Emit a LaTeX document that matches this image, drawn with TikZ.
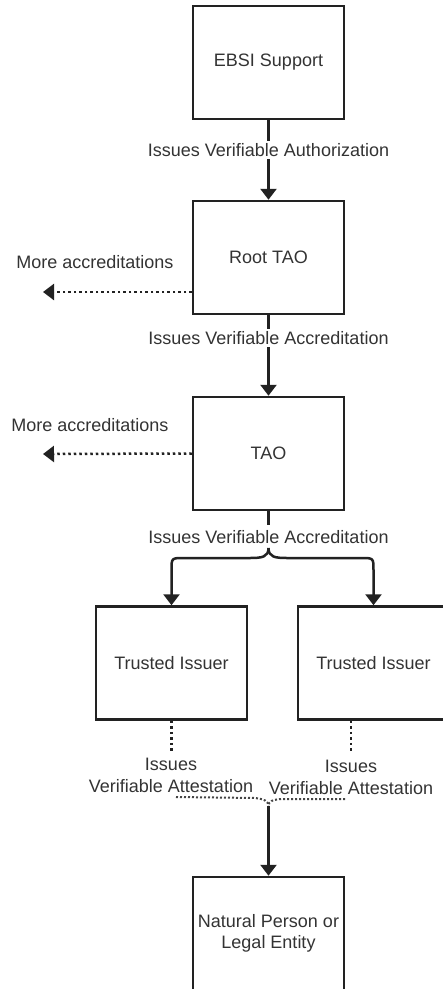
\documentclass[tikz,border=0pt]{standalone}
\usepackage{fontspec}
\setmainfont{Liberation Sans}
\usetikzlibrary{arrows.meta}
\definecolor{ink}{HTML}{222222}
\definecolor{txt}{HTML}{333333}
\definecolor{dotc}{HTML}{444444}
\begin{document}
\begin{tikzpicture}[x=1pt,y=-1pt,
  box/.style={draw=ink, line width=2.5pt, minimum width=151pt, minimum height=113pt,
    inner sep=0pt, font=\fontsize{18}{21}\selectfont, text=txt, align=center},
  lbl/.style={font=\fontsize{18}{22}\selectfont, text=txt, inner sep=2pt, fill=white, align=center},
  plain/.style={font=\fontsize{18}{22}\selectfont, text=txt, inner sep=0pt, align=center},
  tip/.style={-{Triangle[width=16pt,length=11pt]}},
  arr/.style={draw=ink, line width=2.5pt, tip},
  dotarr/.style={draw=ink, line width=2.5pt, dash pattern=on 2.5pt off 3pt, tip},
  dotline/.style={draw=ink, line width=2.5pt, dash pattern=on 2.5pt off 3pt},
  dotthin/.style={draw=dotc, line width=2pt, dash pattern=on 2pt off 2pt}]
\useasboundingbox (0,0) rectangle (443,989);

% boxes
\node[box] (ebsi) at (268.5,62.5) {EBSI Support};
\node[box] (root) at (268.5,257.5) {Root TAO};
\node[box] (tao)  at (268.5,453.5) {TAO};
\node[box] (ti1)  at (171.5,663) {Trusted Issuer};
\node[box] (ti2)  at (373.5,663) {Trusted Issuer};
\node[box] (np)   at (268.5,933.5) {Natural Person or\\Legal Entity};

% EBSI -> Root
\draw[arr] (ebsi.south) -- (root.north);
\node[lbl] (l1) at (268.5,150) {Issues Verifiable Authorization};

% Root -> TAO
\draw[arr] (root.south) -- (tao.north);
\node[lbl] (l2) at (268.5,338) {Issues Verifiable Accreditation};

% More accreditations
\coordinate (m1) at (43,292);
\draw[dotarr] ([yshift=-34.5pt]root.west) -- (m1);
\node[plain] (t1) at (95,262) {More accreditations};
\coordinate (m2) at (43,454);
\draw[dotarr] (tao.west) -- (m2);
\node[plain] (t2) at (90,425) {More accreditations};

% TAO -> Trusted issuers
\node[plain] (l3) at (268.5,537) {Issues Verifiable Accreditation};
\draw[draw=ink, line width=2.5pt] (tao.south) -- (268.5,525);
\coordinate (cusp) at (268.5,548);
\draw[arr] (cusp) .. controls (268.5,557) and (262,558) .. (250,558) -- (184,558)
   .. controls (171.5,558) .. (171.5,570) -- (ti1.north);
\draw[arr] (cusp) .. controls (268.5,557) and (275,558) .. (287,558) -- (361,558)
   .. controls (373.5,558) .. (373.5,570) -- (ti2.north);

% Trusted issuers -> Natural person
\node[plain] (l4) at (171,775) {Issues\\Verifiable Attestation};
\node[plain] (l5) at (351,777.5) {Issues\\Verifiable Attestation};
\draw[dotline] (ti1.south) -- (171.5,752);
\draw[dotline] ([xshift=-22.5pt]ti2.south) -- (351,752);
\coordinate (lL) at (176,797);
\coordinate (lR) at (345,799);
\coordinate (cusp2) at (268.5,806);
\draw[dotthin] (lL) -- (255,798) .. controls (264,799) and (268.5,801) .. (cusp2);
\draw[dotthin] (lR) -- (282,799) .. controls (273,799.5) and (268.5,801) .. (cusp2);
\draw[arr] (cusp2) -- (np.north);
\end{tikzpicture}
\end{document}
